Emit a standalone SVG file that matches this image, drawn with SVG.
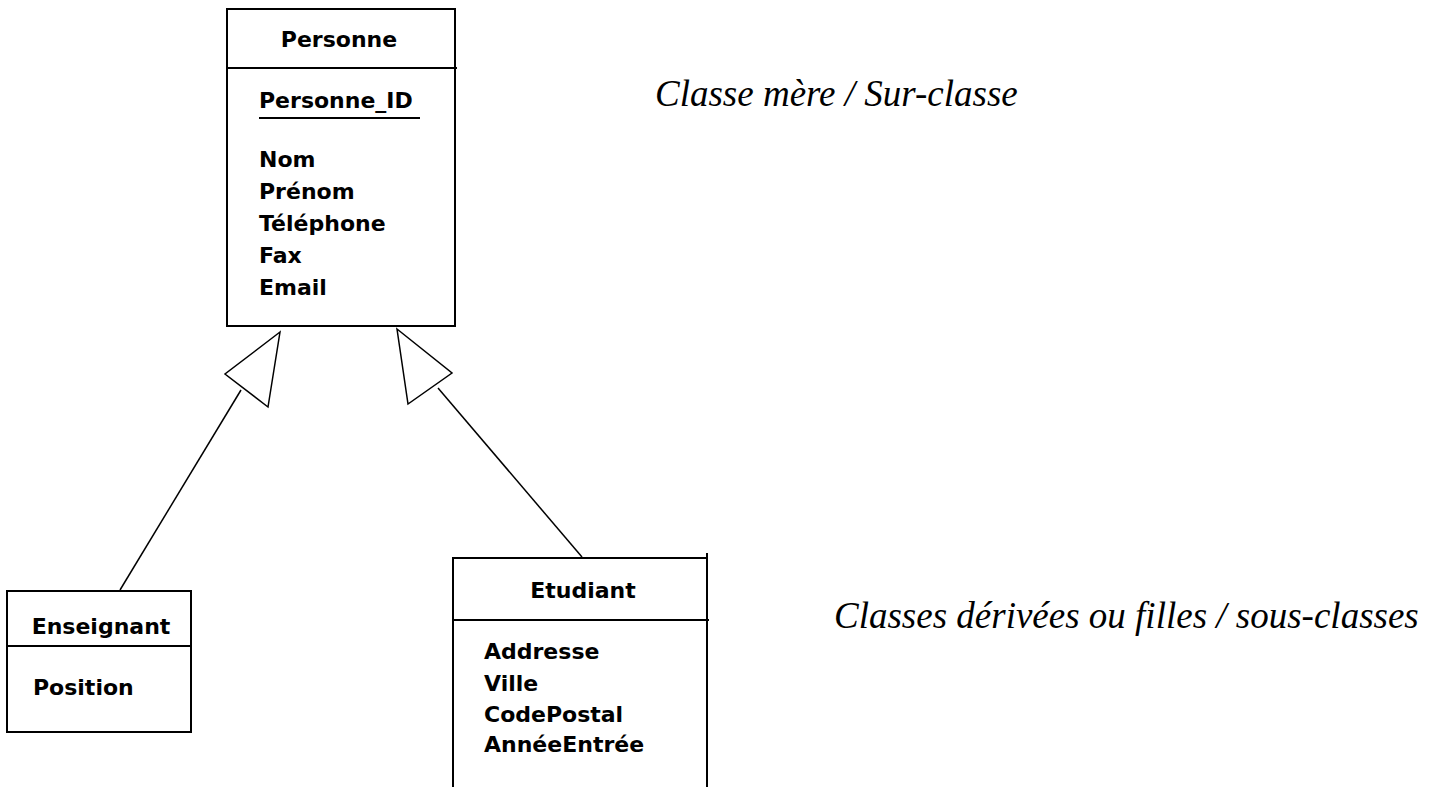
<svg xmlns="http://www.w3.org/2000/svg" width="1444" height="787" viewBox="0 0 1444 787">
<style>
.box{fill:none;stroke:#000;stroke-width:2}
.ln{stroke:#000;stroke-width:2;fill:none}
.t{font-family:"DejaVu Sans",sans-serif;font-weight:bold;font-size:22px;fill:#000}
.c{text-anchor:middle}
.it{font-family:"Liberation Serif","Times New Roman",serif;font-style:italic;font-size:37px;fill:#000}
.con{stroke:#000;stroke-width:1.5;fill:none}
.tri{stroke:#000;stroke-width:1.5;fill:#fff}
</style>
<g id="Personne">
<rect class="box" x="227" y="9" width="228" height="317"/>
<line class="ln" x1="227" y1="68" x2="457" y2="68"/>
<text class="t c" x="339" y="47">Personne</text>
<text class="t" x="259" y="108">Personne_ID</text>
<line class="ln" x1="259" y1="118" x2="420" y2="118"/>
<text class="t" x="259" y="167">Nom</text>
<text class="t" x="259" y="199">Prénom</text>
<text class="t" x="259" y="231">Téléphone</text>
<text class="t" x="259" y="263">Fax</text>
<text class="t" x="259" y="295">Email</text>
</g>
<g id="Enseignant">
<rect class="box" x="7" y="591" width="184" height="141"/>
<line class="ln" x1="7" y1="646" x2="191" y2="646"/>
<text class="t c" x="101" y="634">Enseignant</text>
<text class="t" x="33" y="695">Position</text>
</g>
<g id="Etudiant">
<path class="ln" d="M453 787 V558 H707 V787"/>
<line class="ln" x1="707" y1="553" x2="707" y2="560"/>
<line class="ln" x1="453" y1="620" x2="709" y2="620"/>
<text class="t c" x="583" y="598">Etudiant</text>
<text class="t" x="484" y="659">Addresse</text>
<text class="t" x="484" y="691">Ville</text>
<text class="t" x="484" y="722">CodePostal</text>
<text class="t" x="484" y="752">AnnéeEntrée</text>
</g>
<g id="connectors">
<line class="con" x1="241" y1="390" x2="120" y2="590"/>
<polygon class="tri" points="280,332 225,374 268,407"/>
<line class="con" x1="438" y1="388" x2="582" y2="557"/>
<polygon class="tri" points="397,329 452,373 408,404"/>
</g>
<g id="labels">
<text class="it" x="655" y="106">Classe mère / Sur-classe</text>
<text class="it" x="834" y="628">Classes dérivées ou filles / sous-classes</text>
</g>
</svg>
